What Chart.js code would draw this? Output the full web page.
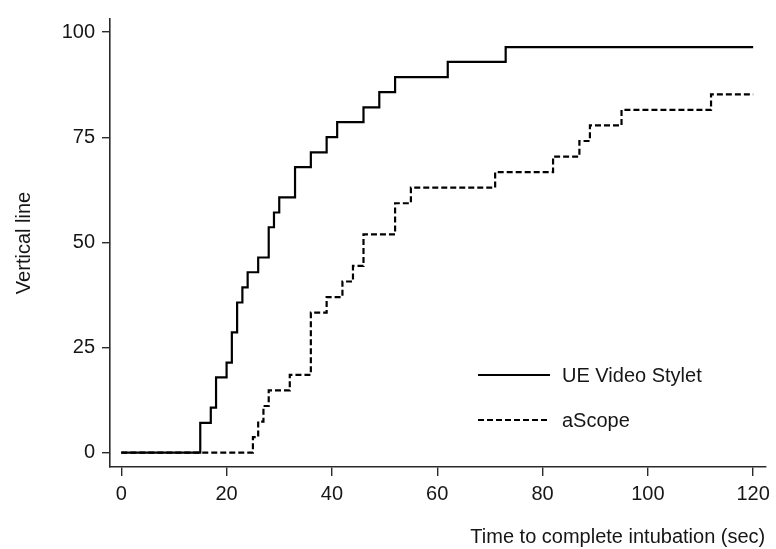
<!DOCTYPE html>
<html>
<head>
<meta charset="utf-8">
<script src="https://cdn.jsdelivr.net/npm/chart.js@4/dist/chart.umd.min.js"></script>
<style>
  html, body { margin: 0; padding: 0; background: #fff; }
  #wrap { width: 776px; height: 549px; }
</style>
</head>
<body>
<div id="wrap"><canvas id="c" width="776" height="549"></canvas></div>
<script>
// ---- Data ----
const seriesNames = ["UE Video Stylet", "aScope"];
const stylerTimes = [0, 15, 17, 18, 20, 21, 22, 23, 24, 26, 28, 29, 30, 33, 36, 39, 41, 46, 49, 52, 62, 73, 120];
const stylerValues = [0, 7.1, 10.7, 17.9, 21.4, 28.6, 35.7, 39.3, 42.9, 46.4, 53.6, 57.1, 60.7, 67.9, 71.4, 75.0, 78.6, 82.1, 85.7, 89.3, 92.9, 96.4, 96.4];
const ascopeTimes = [0, 25, 26, 27, 28, 32, 36, 39, 42, 44, 46, 52, 55, 71, 82, 87, 89, 95, 112, 120];
const ascopeValues = [0, 3.7, 7.4, 11.1, 14.8, 18.5, 33.3, 37.0, 40.7, 44.4, 51.9, 59.3, 63.0, 66.7, 70.4, 74.1, 77.8, 81.5, 85.2, 85.2];
const xTicks = [0, 20, 40, 60, 80, 100, 120];
const yTicks = [0, 25, 50, 75, 100];
const xTitle = "Time to complete intubation (sec)";
const yTitle = "Vertical line";

const toPoints = (xs, ys) => xs.map((x, i) => ({ x: x, y: ys[i] }));

const FONT = "'Liberation Sans', Arial, Helvetica, sans-serif";
const FS = 20;
const TXT = '#161616';
const AX = '#2a2a2a';

const insideLegend = {
  id: 'insideLegend',
  afterDatasetsDraw(chart) {
    const ctx = chart.ctx;
    const rows = [375, 420];
    ctx.save();
    chart.data.datasets.forEach((ds, i) => {
      const y = rows[i];
      ctx.beginPath();
      ctx.strokeStyle = ds.borderColor;
      ctx.lineWidth = ds.borderWidth;
      ctx.setLineDash(ds.borderDash || []);
      ctx.moveTo(478, y);
      ctx.lineTo(550, y);
      ctx.stroke();
      ctx.setLineDash([]);
      ctx.fillStyle = TXT;
      ctx.font = FS + 'px ' + FONT;
      ctx.textAlign = 'left';
      ctx.textBaseline = 'middle';
      ctx.fillText(ds.label, 562, y + 1);
    });
    ctx.restore();
  }
};

new Chart(document.getElementById('c'), {
  type: 'line',
  data: {
    datasets: [
      {
        label: seriesNames[0],
        data: toPoints(stylerTimes, stylerValues),
        borderColor: '#000',
        borderWidth: 2.2,
        stepped: true,
        pointRadius: 0,
        fill: false
      },
      {
        label: seriesNames[1],
        data: toPoints(ascopeTimes, ascopeValues),
        borderColor: '#000',
        borderWidth: 2.2,
        borderDash: [6, 3],
        stepped: true,
        pointRadius: 0,
        fill: false
      }
    ]
  },
  options: {
    responsive: false,
    animation: false,
    layout: { padding: { left: 0, top: 10, right: 8, bottom: 0 } },
    plugins: {
      legend: { display: false },
      tooltip: { enabled: false }
    },
    scales: {
      x: {
        type: 'linear',
        min: -2.14,
        max: 122.3,
        afterBuildTicks: (s) => { s.ticks = xTicks.map(v => ({ value: v })); },
        afterFit: (s) => { s.height = 82; },
        grid: { display: true, drawOnChartArea: false, drawTicks: true, tickLength: 9, color: AX, lineWidth: 1.4 },
        border: { display: true, color: AX, width: 1.6 },
        ticks: { color: TXT, font: { family: FONT, size: FS }, padding: 6, maxRotation: 0, autoSkip: false },
        title: { display: true, text: xTitle, align: 'end', color: TXT, font: { family: FONT, size: FS }, padding: { top: 4, bottom: 0 } }
      },
      y: {
        type: 'linear',
        min: -3.4,
        max: 103.1,
        afterBuildTicks: (s) => { s.ticks = yTicks.map(v => ({ value: v })); },
        afterFit: (s) => { s.width = 110; },
        grid: { display: true, drawOnChartArea: false, drawTicks: true, tickLength: 8, color: AX, lineWidth: 1.4 },
        border: { display: true, color: AX, width: 1.6 },
        ticks: { color: TXT, font: { family: FONT, size: FS }, padding: 7 },
        title: { display: true, text: yTitle, color: TXT, font: { family: FONT, size: FS }, padding: { top: 12, bottom: 0 } }
      }
    }
  },
  plugins: [insideLegend]
});
</script>
</body>
</html>
